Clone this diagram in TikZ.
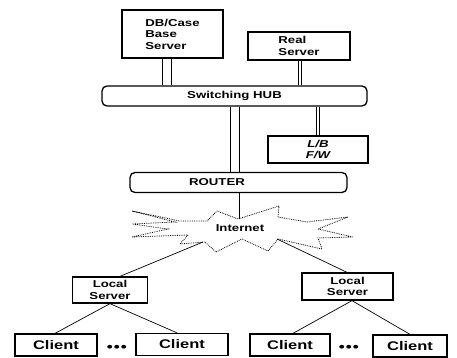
\documentclass[tikz,border=0pt]{standalone}
\usepackage{fontspec}
\newfontfamily\lab[FakeStretch=1.32,UprightFont=* Bold,ItalicFont=* Bold Italic]{Liberation Sans}
\begin{document}
\begin{tikzpicture}[x=1pt,y=-1pt,
  box/.style={draw, line width=1.3pt, inner sep=0pt, font=\lab\fontsize{10}{11.5}\selectfont},
  rbox/.style={box, rounded corners=5pt},
  cbox/.style={box, minimum height=22pt, font=\lab\fontsize{12.5}{14}\selectfont},
  txt/.style={inner sep=0pt, font=\lab\fontsize{10}{11.5}\selectfont},
  link/.style={line width=0.7pt},
  pair/.style={line width=0.6pt},
  cloudline/.style={line width=0.8pt, densely dotted}
]
\useasboundingbox (0,0) rectangle (457,358);

% servers and hubs
\node[box, minimum width=101pt, minimum height=48pt, align=left] (db) at (172.5,34) {DB/Case\\Base\\Server};
\node[box, minimum width=102pt, minimum height=28pt, align=left] (real) at (299,46) {Real\\Server};
\node[rbox, minimum width=265pt, minimum height=20pt] (hub) at (234.5,96) {Switching HUB};
\node[box, minimum width=100pt, minimum height=27pt, align=center] (lb) at (318,149.5) {\itshape L/B\\\itshape F/W};
\node[rbox, minimum width=217pt, minimum height=20pt] (router) at (238.5,182.5) {};
\node[txt] (routerlabel) at (217,182.5) {ROUTER};

% internet cloud
\draw[cloudline, fill=white] (132,211) -- (180,221) -- (207,221) -- (217,211) -- (238,219)
  -- (279,206) -- (278,217) -- (307,222) -- (348,217) -- (318,229) -- (353,237)
  -- (318,238) -- (322,249) -- (278,239) -- (268,251) -- (242,239) -- (216,252)
  -- (205,242) -- (180,244) -- (188,235) -- (132,237) -- (168,229) -- (132,224)
  -- (175,222) -- cycle;
\node[txt] (inet) at (240,228) {Internet};
\coordinate (inettop) at (239,219);
\coordinate (inetl) at (203,242);
\coordinate (inetr) at (277,239);

% local servers
\node[box, minimum width=75pt, minimum height=26pt, align=center] (ls1) at (110,290) {Local\\Server};
\node[box, minimum width=91pt, minimum height=27pt, align=center] (ls2) at (347.5,286.5) {Local\\Server};

% clients
\node[cbox, minimum width=82pt] (c1) at (56,345) {Client};
\node[cbox, minimum width=92pt] (c2) at (182,344.5) {Client};
\node[cbox, minimum width=80pt] (c3) at (290,345) {Client};
\node[cbox, minimum width=74pt] (c4) at (410,346) {Client};
\node[txt, font=\lab\fontsize{13}{13}\selectfont] (dots1) at (117,348) {•\kern1pt•\kern1pt•};
\node[txt, font=\lab\fontsize{13}{13}\selectfont] (dots2) at (349,348) {•\kern1pt•\kern1pt•};

% double connectors
\draw[pair] (162,0 |- db.south) -- (162,0 |- hub.north);
\draw[pair] (171,0 |- db.south) -- (171,0 |- hub.north);
\draw[pair] (298,0 |- real.south) -- (298,0 |- hub.north);
\draw[pair] (301.5,0 |- real.south) -- (301.5,0 |- hub.north);
\draw[pair] (230,0 |- hub.south) -- (230,0 |- router.north);
\draw[pair] (239.5,0 |- hub.south) -- (239.5,0 |- router.north);
\draw[pair] (316,0 |- hub.south) -- (316,0 |- lb.north);
\draw[pair] (319.5,0 |- hub.south) -- (319.5,0 |- lb.north);

% single connectors
\draw[link] (239,0 |- router.south) -- (inettop);
\draw[link] (inetl) -- (120,0 |- ls1.north);
\draw[link] (inetr) -- (347,0 |- ls2.north);
\draw[link] (ls1.south) -- (55,0 |- c1.north);
\draw[link] (ls1.south) -- (177,0 |- c2.north);
\draw[link] (352,0 |- ls2.south) -- (293,0 |- c3.north);
\draw[link] (352,0 |- ls2.south) -- (410,0 |- c4.north);
\end{tikzpicture}
\end{document}
